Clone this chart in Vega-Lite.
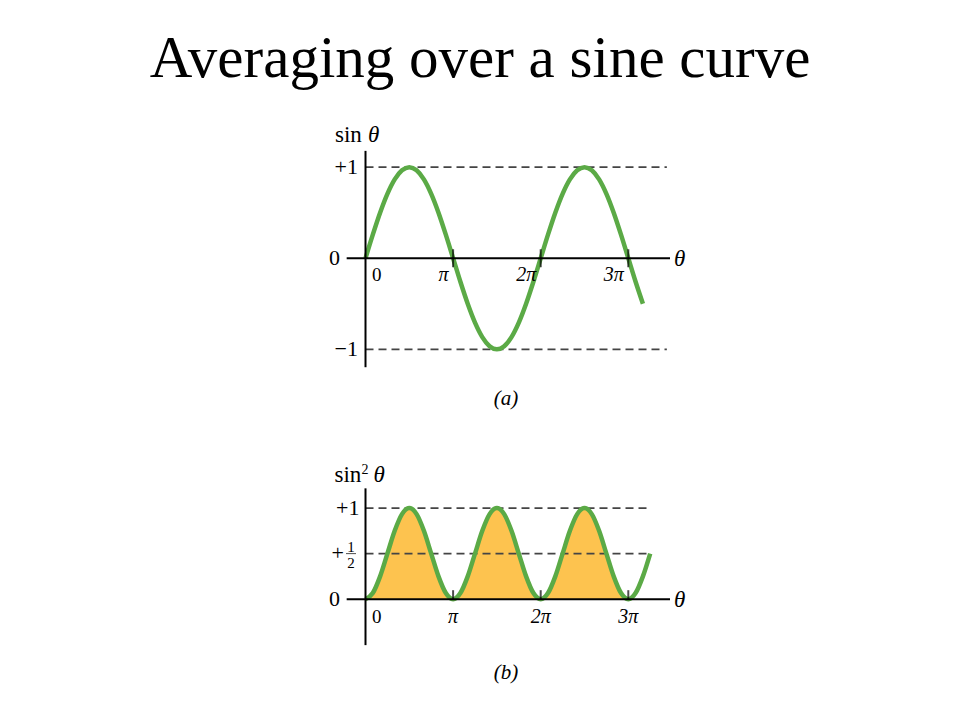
{
  "$schema": "https://vega.github.io/schema/vega-lite/v6.json",
  "width": 960,
  "height": 720,
  "autosize": {"type": "fit", "contains": "padding"},
  "padding": {"top": 30, "left": 0, "right": 0, "bottom": 0},
  "background": "white",
  "title": {"text": "Averaging over a sine curve", "font": "Liberation Serif", "fontSize": 59, "fontWeight": "normal", "color": "#000000", "anchor": "middle", "baseline": "alphabetic", "offset": -50},
  "config": {"view": {"stroke": null}, "text": {"font": "Liberation Serif", "color": "#000000"}},
  "datasets": {
    "sine": [
      {"t":0,"v":0},{"t":0.0833,"v":0.2588},{"t":0.1667,"v":0.5},{"t":0.25,"v":0.7071},{"t":0.3333,"v":0.866},{"t":0.4167,"v":0.9659},{"t":0.5,"v":1},{"t":0.5833,"v":0.9659},{"t":0.6667,"v":0.866},{"t":0.75,"v":0.7071},{"t":0.8333,"v":0.5},{"t":0.9167,"v":0.2588},{"t":1,"v":0},
      {"t":1.0833,"v":-0.2588},{"t":1.1667,"v":-0.5},{"t":1.25,"v":-0.7071},{"t":1.3333,"v":-0.866},{"t":1.4167,"v":-0.9659},{"t":1.5,"v":-1},{"t":1.5833,"v":-0.9659},{"t":1.6667,"v":-0.866},{"t":1.75,"v":-0.7071},{"t":1.8333,"v":-0.5},{"t":1.9167,"v":-0.2588},{"t":2,"v":0},
      {"t":2.0833,"v":0.2588},{"t":2.1667,"v":0.5},{"t":2.25,"v":0.7071},{"t":2.3333,"v":0.866},{"t":2.4167,"v":0.9659},{"t":2.5,"v":1},{"t":2.5833,"v":0.9659},{"t":2.6667,"v":0.866},{"t":2.75,"v":0.7071},{"t":2.8333,"v":0.5},{"t":2.9167,"v":0.2588},{"t":3,"v":0},
      {"t":3.0833,"v":-0.2588},{"t":3.1667,"v":-0.5}
    ],
    "sineSquared": [
      {"t":0,"v":0},{"t":0.0833,"v":0.067},{"t":0.1667,"v":0.25},{"t":0.25,"v":0.5},{"t":0.3333,"v":0.75},{"t":0.4167,"v":0.933},{"t":0.5,"v":1},{"t":0.5833,"v":0.933},{"t":0.6667,"v":0.75},{"t":0.75,"v":0.5},{"t":0.8333,"v":0.25},{"t":0.9167,"v":0.067},{"t":1,"v":0},
      {"t":1.0833,"v":0.067},{"t":1.1667,"v":0.25},{"t":1.25,"v":0.5},{"t":1.3333,"v":0.75},{"t":1.4167,"v":0.933},{"t":1.5,"v":1},{"t":1.5833,"v":0.933},{"t":1.6667,"v":0.75},{"t":1.75,"v":0.5},{"t":1.8333,"v":0.25},{"t":1.9167,"v":0.067},{"t":2,"v":0},
      {"t":2.0833,"v":0.067},{"t":2.1667,"v":0.25},{"t":2.25,"v":0.5},{"t":2.3333,"v":0.75},{"t":2.4167,"v":0.933},{"t":2.5,"v":1},{"t":2.5833,"v":0.933},{"t":2.6667,"v":0.75},{"t":2.75,"v":0.5},{"t":2.8333,"v":0.25},{"t":2.9167,"v":0.067},{"t":3,"v":0},
      {"t":3.0833,"v":0.067},{"t":3.1667,"v":0.25},{"t":3.25,"v":0.5}
    ],
    "axesA": [
      {"axis":"θ","t":-0.215,"v":0,"t2":3.476,"v2":0},
      {"axis":"sin θ","t":0,"v":-1.197,"t2":0,"v2":1.179}
    ],
    "axesB": [
      {"axis":"θ","t":-0.215,"v":0,"t2":3.476,"v2":0},
      {"axis":"sin² θ","t":0,"v":-0.504,"t2":0,"v2":1.216}
    ],
    "titleA": [{"fn":"sin","arg":"θ","t":0,"v":1.179}],
    "titleB": [{"fn":"sin","power":"2","arg":"θ","t":0,"v":1.216}],
    "refA": [{"level":1,"from":0,"to":3.44},{"level":-1,"from":0,"to":3.44}],
    "refB": [{"level":1,"from":0,"to":3.25},{"level":0.5,"from":0,"to":3.25}],
    "ticks": [{"t":1},{"t":2},{"t":3}],
    "tickLabels": [{"t":0,"label":"0"},{"t":1,"label":"π"},{"t":2,"label":"2π"},{"t":3,"label":"3π"}],
    "valuesA": [{"v":1,"label":"+1"},{"v":0,"label":"0"},{"v":-1,"label":"−1"}],
    "valuesB": [{"v":1,"label":"+1"},{"v":0,"label":"0"}],
    "halfB": [{"v":0.5,"sign":"+","num":"1","den":"2"}],
    "captionA": [{"caption":"(a)","t":1.604,"v":-1.541}],
    "captionB": [{"caption":"(b)","t":1.604,"v":-0.8105}]
  },
  "resolve": {"scale": {"y": "independent"}},
  "layer": [
    {
      "layer": [
        {
          "data": {"name": "refA"},
          "mark": {"type": "rule", "color": "#444444", "strokeWidth": 1.8, "strokeDash": [8, 5]},
          "encoding": {
            "x": {"field": "from", "type": "quantitative", "scale": {"domain": [-4.1724, 6.7865], "nice": false, "zero": false}, "axis": null},
            "x2": {"field": "to"},
            "y": {"field": "level", "type": "quantitative", "scale": {"domain": [-5.0713, 1.8914], "nice": false, "zero": false}, "axis": null}
          }
        },
        {
          "data": {"name": "sine"},
          "mark": {"type": "line", "color": "#5BAA46", "strokeWidth": 4.5, "interpolate": "monotone"},
          "encoding": {
            "x": {"field": "t", "type": "quantitative", "scale": {"domain": [-4.1724, 6.7865], "nice": false, "zero": false}, "axis": null},
            "y": {"field": "v", "type": "quantitative", "scale": {"domain": [-5.0713, 1.8914], "nice": false, "zero": false}, "axis": null}
          }
        },
        {
          "data": {"name": "axesA"},
          "mark": {"type": "rule", "color": "#000000", "strokeWidth": 2},
          "encoding": {
            "x": {"field": "t", "type": "quantitative", "scale": {"domain": [-4.1724, 6.7865], "nice": false, "zero": false}, "axis": null},
            "x2": {"field": "t2"},
            "y": {"field": "v", "type": "quantitative", "scale": {"domain": [-5.0713, 1.8914], "nice": false, "zero": false}, "axis": null},
            "y2": {"field": "v2"}
          }
        },
        {
          "data": {"name": "ticks"},
          "mark": {"type": "tick", "orient": "vertical", "color": "#000000", "size": 18, "thickness": 2},
          "encoding": {
            "x": {"field": "t", "type": "quantitative", "scale": {"domain": [-4.1724, 6.7865], "nice": false, "zero": false}, "axis": null},
            "y": {"datum": 0, "type": "quantitative", "scale": {"domain": [-5.0713, 1.8914], "nice": false, "zero": false}, "axis": null}
          }
        },
        {
          "data": {"name": "tickLabels"},
          "transform": [{"filter": "datum.t == 0"}],
          "mark": {"type": "text", "fontSize": 19, "align": "left", "baseline": "middle", "dx": 6.5, "dy": 16.5},
          "encoding": {
            "x": {"field": "t", "type": "quantitative", "scale": {"domain": [-4.1724, 6.7865], "nice": false, "zero": false}, "axis": null},
            "y": {"datum": 0, "type": "quantitative", "scale": {"domain": [-5.0713, 1.8914], "nice": false, "zero": false}, "axis": null},
            "text": {"field": "label"}
          }
        },
        {
          "data": {"name": "tickLabels"},
          "transform": [{"filter": "datum.t > 0"}],
          "mark": {"type": "text", "fontSize": 20, "fontStyle": "italic", "align": "right", "baseline": "middle", "dx": -4.5, "dy": 16.5},
          "encoding": {
            "x": {"field": "t", "type": "quantitative", "scale": {"domain": [-4.1724, 6.7865], "nice": false, "zero": false}, "axis": null},
            "y": {"datum": 0, "type": "quantitative", "scale": {"domain": [-5.0713, 1.8914], "nice": false, "zero": false}, "axis": null},
            "text": {"field": "label"}
          }
        },
        {
          "data": {"name": "valuesA"},
          "transform": [{"filter": "datum.v != 0"}],
          "mark": {"type": "text", "fontSize": 22, "align": "right", "baseline": "middle", "dx": -7.5},
          "encoding": {
            "x": {"datum": 0, "type": "quantitative", "scale": {"domain": [-4.1724, 6.7865], "nice": false, "zero": false}, "axis": null},
            "y": {"field": "v", "type": "quantitative", "scale": {"domain": [-5.0713, 1.8914], "nice": false, "zero": false}, "axis": null},
            "text": {"field": "label"}
          }
        },
        {
          "data": {"name": "valuesA"},
          "transform": [{"filter": "datum.v == 0"}],
          "mark": {"type": "text", "fontSize": 22, "align": "right", "baseline": "middle", "dx": -25.5},
          "encoding": {
            "x": {"datum": 0, "type": "quantitative", "scale": {"domain": [-4.1724, 6.7865], "nice": false, "zero": false}, "axis": null},
            "y": {"field": "v", "type": "quantitative", "scale": {"domain": [-5.0713, 1.8914], "nice": false, "zero": false}, "axis": null},
            "text": {"field": "label"}
          }
        },
        {
          "data": {"name": "titleA"},
          "mark": {"type": "text", "fontSize": 23, "align": "left", "baseline": "alphabetic", "dx": -30.5, "dy": -9},
          "encoding": {
            "x": {"field": "t", "type": "quantitative", "scale": {"domain": [-4.1724, 6.7865], "nice": false, "zero": false}, "axis": null},
            "y": {"field": "v", "type": "quantitative", "scale": {"domain": [-5.0713, 1.8914], "nice": false, "zero": false}, "axis": null},
            "text": {"field": "fn"}
          }
        },
        {
          "data": {"name": "titleA"},
          "mark": {"type": "text", "fontSize": 23, "fontStyle": "italic", "align": "left", "baseline": "alphabetic", "dx": 2.5, "dy": -9},
          "encoding": {
            "x": {"field": "t", "type": "quantitative", "scale": {"domain": [-4.1724, 6.7865], "nice": false, "zero": false}, "axis": null},
            "y": {"field": "v", "type": "quantitative", "scale": {"domain": [-5.0713, 1.8914], "nice": false, "zero": false}, "axis": null},
            "text": {"field": "arg"}
          }
        },
        {
          "data": {"name": "axesA"},
          "transform": [{"filter": "datum.axis == 'θ'"}],
          "mark": {"type": "text", "fontSize": 23, "fontStyle": "italic", "align": "left", "baseline": "middle", "dx": 4, "dy": 1},
          "encoding": {
            "x": {"field": "t2", "type": "quantitative", "scale": {"domain": [-4.1724, 6.7865], "nice": false, "zero": false}, "axis": null},
            "y": {"field": "v2", "type": "quantitative", "scale": {"domain": [-5.0713, 1.8914], "nice": false, "zero": false}, "axis": null},
            "text": {"field": "axis"}
          }
        },
        {
          "data": {"name": "captionA"},
          "mark": {"type": "text", "fontSize": 21, "fontStyle": "italic", "align": "center", "baseline": "middle"},
          "encoding": {
            "x": {"field": "t", "type": "quantitative", "scale": {"domain": [-4.1724, 6.7865], "nice": false, "zero": false}, "axis": null},
            "y": {"field": "v", "type": "quantitative", "scale": {"domain": [-5.0713, 1.8914], "nice": false, "zero": false}, "axis": null},
            "text": {"field": "caption"}
          }
        }
      ]
    },
    {
      "layer": [
        {
          "data": {"name": "sineSquared"},
          "transform": [{"filter": "datum.t <= 3"}],
          "mark": {"type": "area", "color": "#FDC34F", "interpolate": "monotone"},
          "encoding": {
            "x": {"field": "t", "type": "quantitative", "scale": {"domain": [-4.1724, 6.7865], "nice": false, "zero": false}, "axis": null},
            "y": {"field": "v", "type": "quantitative", "scale": {"domain": [-1.3253, 5.6298], "nice": false, "zero": false}, "axis": null},
            "y2": {"datum": 0}
          }
        },
        {
          "data": {"name": "refB"},
          "mark": {"type": "rule", "color": "#444444", "strokeWidth": 1.8, "strokeDash": [8, 5]},
          "encoding": {
            "x": {"field": "from", "type": "quantitative", "scale": {"domain": [-4.1724, 6.7865], "nice": false, "zero": false}, "axis": null},
            "x2": {"field": "to"},
            "y": {"field": "level", "type": "quantitative", "scale": {"domain": [-1.3253, 5.6298], "nice": false, "zero": false}, "axis": null}
          }
        },
        {
          "data": {"name": "sineSquared"},
          "mark": {"type": "line", "color": "#5BAA46", "strokeWidth": 4.5, "interpolate": "monotone"},
          "encoding": {
            "x": {"field": "t", "type": "quantitative", "scale": {"domain": [-4.1724, 6.7865], "nice": false, "zero": false}, "axis": null},
            "y": {"field": "v", "type": "quantitative", "scale": {"domain": [-1.3253, 5.6298], "nice": false, "zero": false}, "axis": null}
          }
        },
        {
          "data": {"name": "axesB"},
          "mark": {"type": "rule", "color": "#000000", "strokeWidth": 2},
          "encoding": {
            "x": {"field": "t", "type": "quantitative", "scale": {"domain": [-4.1724, 6.7865], "nice": false, "zero": false}, "axis": null},
            "x2": {"field": "t2"},
            "y": {"field": "v", "type": "quantitative", "scale": {"domain": [-1.3253, 5.6298], "nice": false, "zero": false}, "axis": null},
            "y2": {"field": "v2"}
          }
        },
        {
          "data": {"name": "ticks"},
          "mark": {"type": "tick", "orient": "vertical", "color": "#000000", "size": 9, "thickness": 2, "yOffset": -4.5},
          "encoding": {
            "x": {"field": "t", "type": "quantitative", "scale": {"domain": [-4.1724, 6.7865], "nice": false, "zero": false}, "axis": null},
            "y": {"datum": 0, "type": "quantitative", "scale": {"domain": [-1.3253, 5.6298], "nice": false, "zero": false}, "axis": null}
          }
        },
        {
          "data": {"name": "tickLabels"},
          "transform": [{"filter": "datum.t == 0"}],
          "mark": {"type": "text", "fontSize": 19, "align": "left", "baseline": "middle", "dx": 6.5, "dy": 18},
          "encoding": {
            "x": {"field": "t", "type": "quantitative", "scale": {"domain": [-4.1724, 6.7865], "nice": false, "zero": false}, "axis": null},
            "y": {"datum": 0, "type": "quantitative", "scale": {"domain": [-1.3253, 5.6298], "nice": false, "zero": false}, "axis": null},
            "text": {"field": "label"}
          }
        },
        {
          "data": {"name": "tickLabels"},
          "transform": [{"filter": "datum.t > 0"}],
          "mark": {"type": "text", "fontSize": 20, "fontStyle": "italic", "align": "center", "baseline": "middle", "dy": 18},
          "encoding": {
            "x": {"field": "t", "type": "quantitative", "scale": {"domain": [-4.1724, 6.7865], "nice": false, "zero": false}, "axis": null},
            "y": {"datum": 0, "type": "quantitative", "scale": {"domain": [-1.3253, 5.6298], "nice": false, "zero": false}, "axis": null},
            "text": {"field": "label"}
          }
        },
        {
          "data": {"name": "valuesB"},
          "transform": [{"filter": "datum.v != 0"}],
          "mark": {"type": "text", "fontSize": 22, "align": "right", "baseline": "middle", "dx": -6},
          "encoding": {
            "x": {"datum": 0, "type": "quantitative", "scale": {"domain": [-4.1724, 6.7865], "nice": false, "zero": false}, "axis": null},
            "y": {"field": "v", "type": "quantitative", "scale": {"domain": [-1.3253, 5.6298], "nice": false, "zero": false}, "axis": null},
            "text": {"field": "label"}
          }
        },
        {
          "data": {"name": "valuesB"},
          "transform": [{"filter": "datum.v == 0"}],
          "mark": {"type": "text", "fontSize": 22, "align": "right", "baseline": "middle", "dx": -25.5},
          "encoding": {
            "x": {"datum": 0, "type": "quantitative", "scale": {"domain": [-4.1724, 6.7865], "nice": false, "zero": false}, "axis": null},
            "y": {"field": "v", "type": "quantitative", "scale": {"domain": [-1.3253, 5.6298], "nice": false, "zero": false}, "axis": null},
            "text": {"field": "label"}
          }
        },
        {
          "data": {"name": "halfB"},
          "mark": {"type": "text", "fontSize": 22, "align": "right", "baseline": "middle", "dx": -21.5, "dy": -1},
          "encoding": {
            "x": {"datum": 0, "type": "quantitative", "scale": {"domain": [-4.1724, 6.7865], "nice": false, "zero": false}, "axis": null},
            "y": {"field": "v", "type": "quantitative", "scale": {"domain": [-1.3253, 5.6298], "nice": false, "zero": false}, "axis": null},
            "text": {"field": "sign"}
          }
        },
        {
          "data": {"name": "halfB"},
          "mark": {"type": "text", "fontSize": 15, "align": "center", "baseline": "alphabetic", "dx": -14.5, "dy": -1.5},
          "encoding": {
            "x": {"datum": 0, "type": "quantitative", "scale": {"domain": [-4.1724, 6.7865], "nice": false, "zero": false}, "axis": null},
            "y": {"field": "v", "type": "quantitative", "scale": {"domain": [-1.3253, 5.6298], "nice": false, "zero": false}, "axis": null},
            "text": {"field": "num"}
          }
        },
        {
          "data": {"name": "halfB"},
          "mark": {"type": "text", "fontSize": 15, "align": "center", "baseline": "top", "dx": -14.5, "dy": 2},
          "encoding": {
            "x": {"datum": 0, "type": "quantitative", "scale": {"domain": [-4.1724, 6.7865], "nice": false, "zero": false}, "axis": null},
            "y": {"field": "v", "type": "quantitative", "scale": {"domain": [-1.3253, 5.6298], "nice": false, "zero": false}, "axis": null},
            "text": {"field": "den"}
          }
        },
        {
          "data": {"name": "halfB"},
          "mark": {"type": "tick", "orient": "horizontal", "color": "#000000", "size": 10, "thickness": 1, "xOffset": -14.5},
          "encoding": {
            "x": {"datum": 0, "type": "quantitative", "scale": {"domain": [-4.1724, 6.7865], "nice": false, "zero": false}, "axis": null},
            "y": {"field": "v", "type": "quantitative", "scale": {"domain": [-1.3253, 5.6298], "nice": false, "zero": false}, "axis": null}
          }
        },
        {
          "data": {"name": "titleB"},
          "mark": {"type": "text", "fontSize": 23, "align": "left", "baseline": "alphabetic", "dx": -31, "dy": -6},
          "encoding": {
            "x": {"field": "t", "type": "quantitative", "scale": {"domain": [-4.1724, 6.7865], "nice": false, "zero": false}, "axis": null},
            "y": {"field": "v", "type": "quantitative", "scale": {"domain": [-1.3253, 5.6298], "nice": false, "zero": false}, "axis": null},
            "text": {"field": "fn"}
          }
        },
        {
          "data": {"name": "titleB"},
          "mark": {"type": "text", "fontSize": 14, "align": "left", "baseline": "alphabetic", "dx": -4, "dy": -14},
          "encoding": {
            "x": {"field": "t", "type": "quantitative", "scale": {"domain": [-4.1724, 6.7865], "nice": false, "zero": false}, "axis": null},
            "y": {"field": "v", "type": "quantitative", "scale": {"domain": [-1.3253, 5.6298], "nice": false, "zero": false}, "axis": null},
            "text": {"field": "power"}
          }
        },
        {
          "data": {"name": "titleB"},
          "mark": {"type": "text", "fontSize": 23, "fontStyle": "italic", "align": "left", "baseline": "alphabetic", "dx": 8, "dy": -6},
          "encoding": {
            "x": {"field": "t", "type": "quantitative", "scale": {"domain": [-4.1724, 6.7865], "nice": false, "zero": false}, "axis": null},
            "y": {"field": "v", "type": "quantitative", "scale": {"domain": [-1.3253, 5.6298], "nice": false, "zero": false}, "axis": null},
            "text": {"field": "arg"}
          }
        },
        {
          "data": {"name": "axesB"},
          "transform": [{"filter": "datum.axis == 'θ'"}],
          "mark": {"type": "text", "fontSize": 23, "fontStyle": "italic", "align": "left", "baseline": "middle", "dx": 4, "dy": 1},
          "encoding": {
            "x": {"field": "t2", "type": "quantitative", "scale": {"domain": [-4.1724, 6.7865], "nice": false, "zero": false}, "axis": null},
            "y": {"field": "v2", "type": "quantitative", "scale": {"domain": [-1.3253, 5.6298], "nice": false, "zero": false}, "axis": null},
            "text": {"field": "axis"}
          }
        },
        {
          "data": {"name": "captionB"},
          "mark": {"type": "text", "fontSize": 21, "fontStyle": "italic", "align": "center", "baseline": "middle"},
          "encoding": {
            "x": {"field": "t", "type": "quantitative", "scale": {"domain": [-4.1724, 6.7865], "nice": false, "zero": false}, "axis": null},
            "y": {"field": "v", "type": "quantitative", "scale": {"domain": [-1.3253, 5.6298], "nice": false, "zero": false}, "axis": null},
            "text": {"field": "caption"}
          }
        }
      ]
    }
  ]
}
